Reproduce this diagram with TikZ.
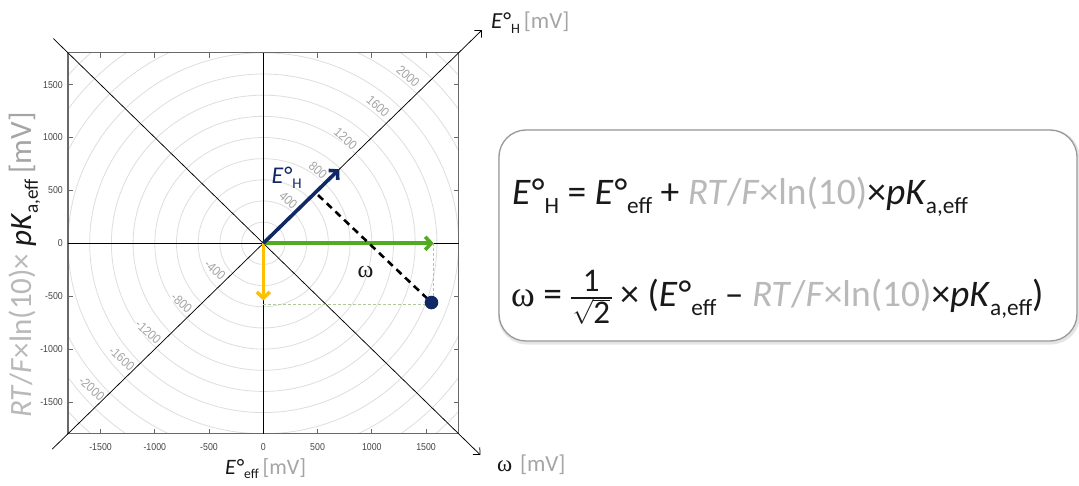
\documentclass[tikz,border=0pt]{standalone}
\usepackage{graphicx}
\usepackage{fontspec}
\setmainfont{Carlito}
\newfontfamily\tickfont[FakeStretch=0.88]{Liberation Sans}
\newfontfamily\greekserif{Liberation Serif}
\usetikzlibrary{arrows.meta}
\definecolor{navy}{RGB}{16,40,100}
\definecolor{grn}{RGB}{82,170,34}
\definecolor{ylw}{RGB}{255,192,0}
\definecolor{lgray}{RGB}{185,185,185}
\definecolor{mvgray}{RGB}{165,165,165}
\definecolor{ringgray}{RGB}{222,222,222}
\definecolor{framegray}{RGB}{105,105,105}
\definecolor{ticktxt}{RGB}{70,70,70}
\definecolor{ringtxt}{RGB}{165,165,165}
\definecolor{guide}{RGB}{175,200,155}
\definecolor{txt}{RGB}{25,25,25}
\newcommand\Eo{\textit{E}\kern0.03em°}
\newcommand\lowsub[1]{\raisebox{-0.22em}{\scalebox{0.62}{#1}}}
\newcommand\fracbox{\raisebox{0pt}{\fontsize{33}{33}\selectfont\setlength\arrayrulewidth{1.5pt}\setlength\tabcolsep{2pt}\begin{tabular}{c}1\\[-4pt]\hline\rule{0pt}{25pt}$\sqrt{\mbox{2}}$\end{tabular}}}
\tikzset{
  ring/.style={ringgray, line width=0.8pt},
  ringlab/.style={ringtxt, font=\tickfont\fontsize{13}{13}\selectfont, fill=white, inner sep=0.5pt, rotate=-42},
  ticklab/.style={ticktxt, font=\tickfont\fontsize{10}{10}\selectfont, inner sep=0pt},
  thinaxis/.style={black, line width=0.75pt},
  bigarrow/.style={line width=3.6pt, -{Straight Barb[length=6pt,width=13pt]}},
  guideline/.style={guide, line width=0.8pt, dash pattern=on 3pt off 2pt},
  axislab/.style={txt, font=\fontsize{23}{23}\selectfont, inner sep=0pt},
}
\begin{document}
\begin{tikzpicture}[x=1pt, y=-1pt]
\fill[white] (0,0) rectangle (1079,486);
\useasboundingbox (0,0) rectangle (1079,486);

\begin{scope}[shift={(263.3,243.3)}, x=0.1085pt, y=0.1058pt]
  \coordinate (O) at (0,0);
  % rings
  \begin{scope}
    \clip (-1800,-1800) rectangle (1800,1800);
    \foreach \r in {200,400,...,2600}
      \draw[ring] (O) circle [x radius=\r, y radius=\r];
  \end{scope}
  % ring labels
  \node[ringlab] (r2000) at (1335,1579) {2000};
  \node[ringlab] (r1600) at (1057,1294) {1600};
  \node[ringlab] (r1200) at (758,988) {1200};
  \node[ringlab] (r800) at (504,688) {800};
  \node[ringlab] (r400) at (231,408) {400};
  \node[ringlab] (m400) at (-445,-252) {-400};
  \node[ringlab] (m800) at (-752,-564) {-800};
  \node[ringlab] (m1200) at (-1060,-839) {-1200};
  \node[ringlab] (m1600) at (-1304,-1089) {-1600};
  \node[ringlab] (m2000) at (-1581,-1373) {-2000};
  % frame
  \draw[framegray, line width=1.3pt] (-1800,-1800) rectangle (1800,1800);
  \foreach \v in {-1500,-1000,-500,0,500,1000,1500} {
    \draw[framegray, line width=0.9pt] (\v,-1800) -- ++(0pt,5pt);
    \draw[framegray, line width=0.9pt] (\v,1800) -- ++(0pt,-5pt);
    \draw[framegray, line width=0.9pt] (-1800,\v) -- ++(5pt,0pt);
    \draw[framegray, line width=0.9pt] (1800,\v) -- ++(-5pt,0pt);
  }
  \foreach \v in {-1500,-1000,-500,0,500,1000,1500} {
    \node[ticklab] (bx\v) at ([yshift=-13pt]\v,-1800) {\v};
    \node[ticklab, anchor=east] (ly\v) at ([xshift=-5pt]-1800,\v) {\v};
  }
  % axes
  \draw[thinaxis] (-1800,0) -- (1800,0);
  \draw[thinaxis] (0,-1800) -- (0,1800);
  \coordinate (BL) at (-1945,-1945);
  \coordinate (TR) at (2015,2015);
  \coordinate (TL) at (-1935,1935);
  \coordinate (BR) at (2000,-2000);
  \draw[thinaxis, -{Straight Barb[length=5pt,width=10pt]}] (BL) -- (TR);
  \draw[thinaxis, -{Straight Barb[length=5pt,width=10pt]}] (TL) -- (BR);
  % guides
  \coordinate (G) at (1570,0);
  \coordinate (Y) at (0,-540);
  \coordinate (Gd) at (1570,-575);
  \coordinate (Yd) at (0,-575);
  \draw[guideline] (G) -- (Gd);
  \draw[guideline] (Yd) -- (Gd);
  % vectors
  \coordinate (H) at (700,700);
  \draw[bigarrow, grn] (O) -- (G);
  \draw[bigarrow, ylw] (O) -- (Y);
  \draw[bigarrow, navy] (O) -- (H);
  \coordinate (P) at (1550,-560);
  \coordinate (F) at (504,456);
  \draw[black, line width=2.6pt, dash pattern=on 7pt off 5pt] (F) -- (P);
  \fill[navy] (P) circle [radius=6.8pt];
  \node[navy, font=\fontsize{24}{24}\selectfont, inner sep=0pt] (EHlab) at (216,620) {\Eo\lowsub{H}};
  \node[txt, font=\greekserif\fontsize{24}{24}\selectfont, inner sep=0pt] (omlab) at (941,-269) {ω};
\end{scope}

% axis labels
\node[axislab, anchor=base west] (EHax) at (491,28.5) {\Eo\lowsub{H}\,{\color{mvgray}[mV]}};
\node[axislab, anchor=base west] (omax) at (497,471) {{\greekserif ω}\,\,{\color{mvgray}[mV]}};
\node[axislab, anchor=base west, font=\fontsize{22}{22}\selectfont] (Effax) at (225,474) {\Eo\lowsub{eff}\,{\color{mvgray}[mV]}};
\node[axislab, anchor=base, rotate=90, font=\fontsize{31}{31}\selectfont] (ylab) at (31,265) {{\color{lgray}\textit{RT}/\textit{F}×ln(10)×} \textit{pK}\lowsub{a,eff}\,{\color{mvgray}[mV]}};

% formula box
\draw[rounded corners=27pt, line width=4pt, black!10] (500,131.5) rectangle (1078,342.5);
\draw[rounded corners=27pt, line width=1.3pt, gray!80, fill=white] (499,130) rectangle (1077,341);
\node[txt, anchor=base west, inner sep=0pt, font=\fontsize{37.5}{40}\selectfont] (eq1) at (512,205)
  {\Eo\lowsub{H} = \Eo\lowsub{eff} + {\color{lgray}\textit{RT}/\textit{F}×ln(10)}×\textit{pK}\lowsub{a,eff}};
\node[txt, anchor=base west, inner sep=0pt, font=\fontsize{37.5}{40}\selectfont] (eq2) at (511,307)
  {{\greekserif\fontsize{36}{36}\selectfont ω} = \fracbox{} × (\Eo\lowsub{eff} – {\color{lgray}\textit{RT}/\textit{F}×ln(10)}×\textit{pK}\lowsub{a,eff})};
\end{tikzpicture}
\end{document}
